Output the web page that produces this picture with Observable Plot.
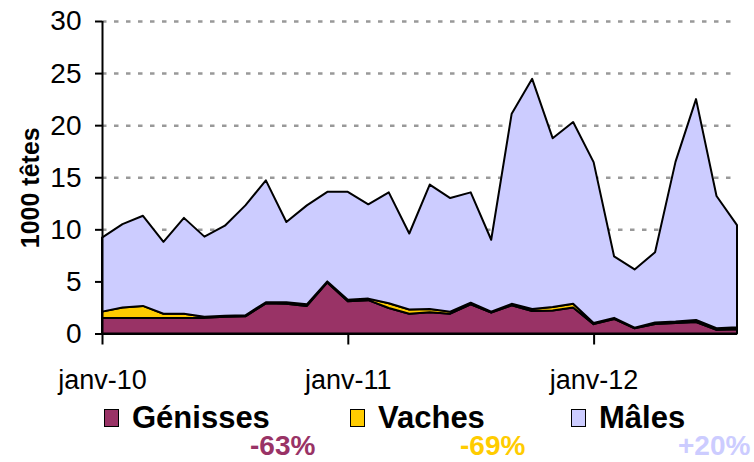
<!DOCTYPE html>
<html><head><meta charset="utf-8">
<script src="https://cdn.jsdelivr.net/npm/d3@7"></script>
<script src="https://cdn.jsdelivr.net/npm/@observablehq/plot@0.6"></script>
<style>
body{margin:0;background:#fff;font-family:"Liberation Sans",Arial,sans-serif;}
#wrap{position:relative;width:754px;height:462px;overflow:hidden;background:#fff}
#chart{position:absolute;left:0;top:0}
.item{position:absolute;top:403px;height:30px;display:flex;align-items:center;font-weight:bold;font-size:31px;color:#000;line-height:30px}
.sw{width:13px;height:16px;border:1.5px solid #000;margin-right:13px}
.pct{position:absolute;top:434px;font-weight:bold;font-size:28px;line-height:24px;height:26px}
</style></head><body><div id="wrap"><div id="chart"></div></div>
<script>
const months = [
 "janv-10","févr-10","mars-10","avr-10","mai-10","juin-10","juil-10","août-10","sept-10","oct-10","nov-10","déc-10",
 "janv-11","févr-11","mars-11","avr-11","mai-11","juin-11","juil-11","août-11","sept-11","oct-11","nov-11","déc-11",
 "janv-12","févr-12","mars-12","avr-12","mai-12","juin-12","juil-12","août-12"];
const genisses = [1.5,1.5,1.5,1.5,1.5,1.5,1.6,1.65,2.9,2.85,2.65,4.9, 3.1,3.2,2.45,1.9,2.05,1.9,2.8,2.0,2.7,2.15,2.2,2.5, 0.9,1.4,0.5,0.9,1.0,1.1,0.35,0.4];
const vaches   = [0.6,1.0,1.15,0.4,0.4,0.1,0.1,0.1,0.1,0.15,0.15,0.1, 0.15,0.15,0.45,0.4,0.3,0.2,0.15,0.1,0.15,0.2,0.35,0.35, 0.1,0.1,0.05,0.15,0.15,0.2,0.15,0.2];
const males    = [7.1,8.0,8.65,6.9,9.2,7.7,8.65,10.55,11.7,7.7,9.5,8.6, 10.35,9.05,10.65,7.3,11.95,10.9,10.6,6.9,18.25,22.1,16.2,17.45, 15.45,5.9,5.6,6.75,15.35,21.2,12.7,9.8];
const series = ["Génisses","Vaches","Mâles"];
const colors = ["#993366","#FFCC00","#CCCCFF"];
const changes = ["-63%","-69%","+20%"];
const yTicks = [0,5,10,15,20,25,30];
const xTicks = ["janv-10","janv-11","janv-12"];
const yLabel = "1000 têtes";

const values = [genisses, vaches, males];
const data = [];
series.forEach((s, k) => months.forEach((m, i) => data.push({i, month: m, cat: s, v: values[k][i]})));

const chart = Plot.plot({
  width: 754, height: 400,
  marginLeft: 102, marginRight: 17, marginTop: 21, marginBottom: 66.5,
  style: {fontFamily: "Liberation Sans, Arial, sans-serif", background: "white", overflow: "visible", color: "black"},
  x: {type: "linear", domain: [0, months.length - 1]},
  y: {domain: [0, 30]},
  color: {domain: series, range: colors},
  marks: [
    Plot.ruleY(yTicks.filter(d => d > 0), {stroke: "#999", strokeWidth: 2.5, strokeDasharray: "4.5,7.5"}),
    Plot.areaY(data, {x: "i", y: "v", fill: "cat", z: "cat", order: series, stroke: "black", strokeWidth: 2, strokeLinejoin: "round"}),
    Plot.ruleY([0], {stroke: "black", strokeWidth: 2}),
    Plot.ruleX([0], {stroke: "black", strokeWidth: 2}),
    Plot.axisY({ticks: yTicks, tickSize: 7, tickPadding: 14, fontSize: 28, label: null, strokeWidth: 2}),
    Plot.axisX({ticks: xTicks.map(t => months.indexOf(t)), tickFormat: i => months[i], tickSize: 11, tickPadding: 25, fontSize: 27, label: null, strokeWidth: 2}),
    Plot.text([yLabel], {frameAnchor: "left", textAnchor: "middle", rotate: -90, dx: -72, dy: 10, fontWeight: "bold", fontSize: 25, fill: "black"})
  ]
});
document.getElementById("chart").appendChild(chart);

const wrap = document.getElementById("wrap");
const itemLeft = [104, 350, 571];
const pctLeft = [250, 460, 678];
series.forEach((s, k) => {
  const it = document.createElement("div");
  it.className = "item";
  it.style.left = itemLeft[k] + "px";
  it.innerHTML = `<span class="sw" style="background:${colors[k]}"></span><span>${s}</span>`;
  wrap.appendChild(it);
  const p = document.createElement("div");
  p.className = "pct";
  p.style.left = pctLeft[k] + "px";
  p.style.color = colors[k];
  p.textContent = changes[k];
  wrap.appendChild(p);
});
</script></body></html>
